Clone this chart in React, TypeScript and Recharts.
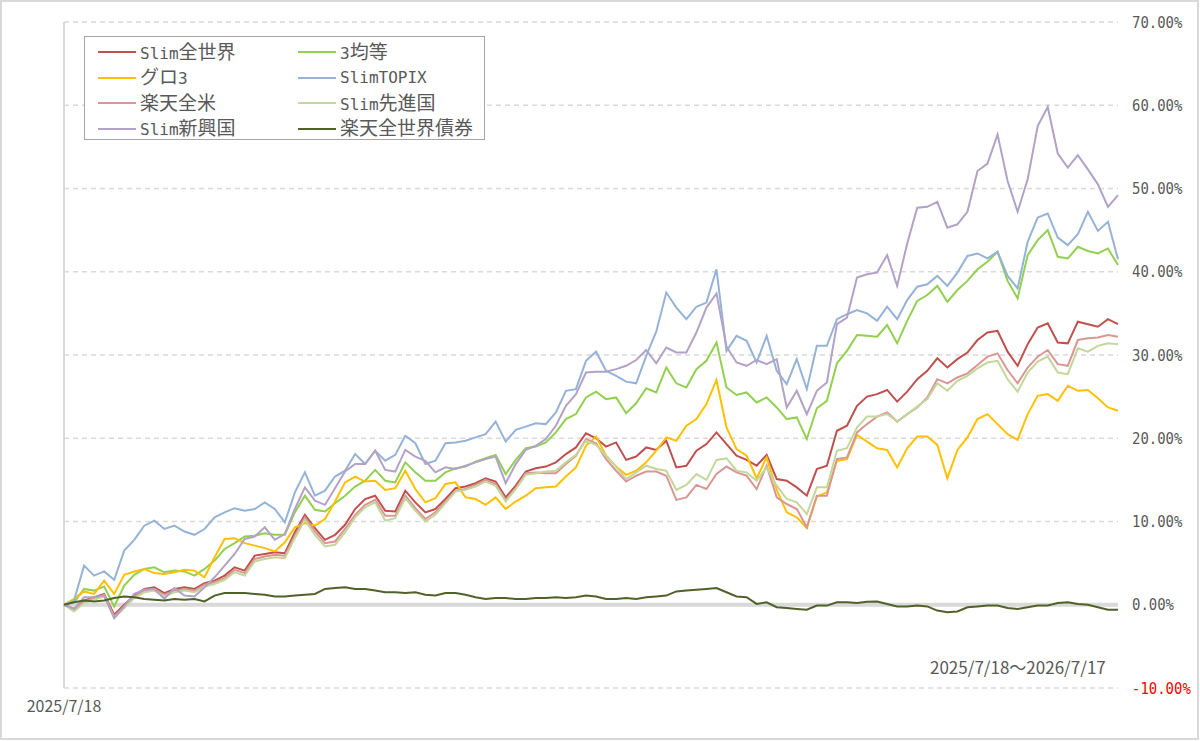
import React from 'react';
import { LineChart, Line, XAxis, YAxis, CartesianGrid, ReferenceLine, Legend } from 'recharts';

// 2025/7/18 〜 2026/7/17, cumulative return (%), sampled across the period
const slimZensekai = [
  0, -0.5, 0.5, 0.9, 1.3, -1.2, 0, 1.1, 1.9, 2.1,
  1.4, 1.9, 2.1, 1.9, 2.6, 2.9, 3.5, 4.5, 4.1, 5.9,
  6.1, 6.3, 6.2, 8.7, 10.8, 9.2, 7.8, 8.4, 9.6, 11.5,
  12.7, 13.1, 11.3, 11.2, 13.7, 12.3, 11.1, 11.5, 12.7, 14.0,
  14.2, 14.6, 15.2, 14.8, 12.9, 14.3, 16.0, 16.4, 16.6, 17.1,
  18.1, 18.9, 20.6, 20.0, 19.0, 19.5, 17.4, 17.8, 18.9, 18.6,
  19.7, 16.5, 16.7, 18.5, 19.3, 20.7, 19.3, 17.9, 17.4, 16.7,
  18.0, 15.1, 14.9, 14.1, 13.1, 16.3, 16.7, 20.9, 21.5, 23.9,
  25.0, 25.3, 25.8, 24.4, 25.6, 27.1, 28.1, 29.6, 28.5, 29.5,
  30.3, 31.8, 32.7, 32.9, 30.4, 28.7, 31.3, 33.3, 33.8, 31.5,
  31.4, 34.0, 33.7, 33.4, 34.3, 33.7,
];
const sanKinto = [
  0, 0.3, 1.9, 1.7, 2.2, -0.2, 2.3, 3.6, 4.3, 4.5,
  3.9, 4.1, 4.0, 3.5, 4.3, 5.3, 6.7, 7.4, 8.2, 8.3,
  8.6, 8.4, 8.4, 11.1, 13.1, 11.4, 11.2, 12.2, 13.1, 14.2,
  14.9, 16.2, 14.9, 14.7, 17.1, 15.9, 14.9, 14.9, 15.9, 16.4,
  16.6, 17.2, 17.6, 18.0, 15.7, 17.4, 18.8, 19.0, 19.5, 20.7,
  22.3, 22.9, 24.9, 25.6, 24.7, 24.9, 23.0, 24.2, 26.0, 25.5,
  28.5, 26.6, 26.1, 28.3, 29.3, 31.5, 26.1, 25.2, 25.5, 24.3,
  24.9, 23.7, 22.3, 22.5, 19.9, 23.6, 24.5, 29.0, 30.5, 32.4,
  32.3, 32.2, 33.6, 31.4, 34.1, 36.5, 37.2, 38.3, 36.4, 37.8,
  38.9, 40.3, 41.2, 42.4, 38.9, 36.8, 42.0, 43.8, 45.0, 41.8,
  41.6, 43.0, 42.5, 42.2, 42.8, 40.8,
];
const guro3 = [
  0, 0.7, 1.6, 1.3, 2.9, 1.3, 3.6, 4.0, 4.3, 3.8,
  3.7, 3.9, 4.2, 4.1, 3.3, 5.7, 7.9, 8.0, 7.4, 7.1,
  6.8, 6.4, 7.5, 9.3, 9.8, 9.5, 10.3, 12.4, 14.7, 15.4,
  14.8, 14.9, 13.8, 14.0, 16.1, 13.9, 12.3, 12.8, 14.5, 14.7,
  12.9, 12.7, 12.0, 12.9, 11.5, 12.4, 13.1, 14.0, 14.1, 14.2,
  15.4, 16.5, 19.1, 20.2, 17.9, 16.6, 15.6, 16.1, 17.1, 18.5,
  20.1, 19.7, 21.5, 22.3, 24.1, 27.0, 21.3, 18.7, 17.9, 15.2,
  17.7, 13.8, 11.1, 10.5, 9.2, 13.0, 13.5, 17.3, 17.5, 20.4,
  19.6, 18.8, 18.6, 16.5, 18.8, 20.2, 20.2, 19.2, 15.2, 18.6,
  20.1, 22.3, 22.9, 21.7, 20.5, 19.8, 22.9, 25.1, 25.3, 24.5,
  26.3, 25.7, 25.8, 24.8, 23.7, 23.3,
];
const slimTopix = [
  0, 0.5, 4.7, 3.5, 4.0, 3.0, 6.5, 7.8, 9.5, 10.1,
  9.1, 9.5, 8.8, 8.4, 9.1, 10.5, 11.1, 11.6, 11.3, 11.5,
  12.3, 11.5, 9.9, 13.5, 15.9, 13.1, 13.7, 15.4, 16.1, 18.1,
  16.9, 18.5, 17.3, 18.0, 20.3, 19.4, 16.9, 17.3, 19.4, 19.5,
  19.7, 20.1, 20.5, 22.0, 19.6, 21.0, 21.4, 21.8, 21.7, 23.1,
  25.7, 25.9, 29.3, 30.4, 28.1, 27.5, 26.8, 26.6, 29.9, 32.8,
  37.5, 35.7, 34.3, 35.8, 36.3, 40.3, 30.5, 32.3, 31.7, 29.1,
  32.3, 28.1, 26.5, 29.5, 25.9, 31.1, 31.1, 34.3, 34.9, 35.4,
  35.0, 34.1, 35.8, 34.3, 36.6, 38.2, 38.5, 39.5, 38.3, 39.9,
  41.9, 42.2, 41.6, 42.4, 39.5, 38.0, 43.6, 46.5, 47.0, 44.1,
  43.2, 44.5, 47.2, 44.9, 46.0, 41.5,
];
const rakutenZenbei = [
  0, -0.6, 0.4, 0.8, 1.2, -1.4, -0.2, 1.0, 1.7, 1.9,
  1.2, 1.7, 1.9, 1.7, 2.4, 2.7, 3.2, 4.2, 3.8, 5.5,
  5.8, 6.0, 5.9, 8.3, 10.5, 8.8, 7.4, 7.6, 9.1, 10.8,
  12.0, 12.6, 10.7, 10.7, 13.1, 11.6, 10.3, 11.1, 12.4, 13.7,
  13.9, 14.4, 15.0, 14.5, 12.6, 14.0, 15.8, 15.9, 15.8, 15.8,
  16.9, 17.9, 19.9, 19.4, 17.5, 16.1, 14.8, 15.5, 16.0, 16.0,
  15.5, 12.6, 12.9, 14.4, 13.9, 15.7, 16.6, 15.9, 15.5, 13.9,
  16.7, 12.9, 12.1, 11.5, 9.3, 13.1, 13.1, 17.5, 17.7, 20.7,
  21.7, 22.6, 23.1, 22.0, 22.9, 23.7, 24.9, 27.1, 26.6, 27.3,
  27.8, 28.8, 29.8, 30.2, 28.2, 26.6, 28.5, 29.8, 30.6, 28.9,
  28.7, 31.8, 32.0, 32.1, 32.4, 32.2,
];
const slimSenshinkoku = [
  0, -0.8, 0.2, 0.6, 1.0, -1.6, -0.4, 0.8, 1.5, 1.7,
  1.0, 1.5, 1.7, 1.5, 2.2, 2.5, 3.0, 3.9, 3.5, 5.2,
  5.5, 5.7, 5.6, 8.0, 10.2, 8.4, 7.0, 7.2, 8.7, 10.5,
  11.7, 12.3, 10.1, 10.4, 12.8, 11.3, 10.0, 10.8, 12.2, 13.6,
  13.8, 14.2, 14.8, 14.3, 12.4, 13.9, 15.6, 15.8, 16.0, 16.1,
  17.1, 18.0, 19.7, 19.2, 17.9, 16.6, 15.1, 15.9, 16.7, 16.3,
  16.1, 13.8, 14.4, 15.7, 15.0, 17.4, 17.6, 16.1, 15.9, 14.9,
  16.5, 14.3, 12.7, 12.3, 10.9, 14.1, 14.1, 18.5, 18.8, 21.3,
  22.6, 22.6, 22.9, 22.0, 22.9, 23.8, 24.7, 26.6, 25.7, 26.9,
  27.5, 28.4, 29.1, 29.3, 27.1, 25.6, 27.9, 29.2, 29.8, 27.9,
  27.7, 30.8, 30.4, 31.1, 31.4, 31.3,
];
const slimShinkokoku = [
  0, -0.5, 0.9, 0.9, 1.1, -1.6, -0.2, 1.3, 1.8, 1.9,
  0.7, 2.0, 1.1, 1.0, 2.1, 3.3, 4.7, 6.1, 7.9, 8.2,
  9.3, 7.8, 8.5, 11.5, 14.1, 12.5, 12.0, 14.0, 16.0, 16.9,
  16.9, 18.5, 16.2, 16.0, 18.6, 17.8, 17.3, 15.9, 16.5, 16.3,
  16.7, 17.1, 17.5, 17.8, 14.6, 16.9, 18.6, 19.1, 19.9, 21.5,
  23.9, 25.3, 27.9, 28.0, 28.0, 28.3, 28.7, 29.4, 30.6, 29.0,
  30.9, 30.3, 30.3, 32.7, 35.7, 37.4, 31.0, 29.1, 28.7, 29.4,
  28.9, 29.5, 23.7, 25.7, 22.9, 25.7, 26.7, 33.7, 34.5, 39.3,
  39.7, 39.9, 42.0, 38.3, 43.4, 47.7, 47.8, 48.4, 45.3, 45.7,
  47.2, 52.1, 53.0, 56.5, 50.9, 47.2, 51.1, 57.5, 59.8, 54.2,
  52.5, 54.0, 52.3, 50.5, 47.8, 49.2,
];
const rakutenSaiken = [
  0, 0.3, 0.5, 0.4, 0.5, 0.8, 1.0, 0.9, 0.7, 0.6,
  0.5, 0.7, 0.6, 0.7, 0.4, 1.1, 1.4, 1.4, 1.4, 1.3,
  1.2, 1.0, 1.0, 1.1, 1.2, 1.3, 1.9, 2.0, 2.1, 1.9,
  1.9, 1.7, 1.5, 1.5, 1.4, 1.5, 1.2, 1.1, 1.4, 1.4,
  1.2, 0.9, 0.7, 0.8, 0.8, 0.7, 0.7, 0.8, 0.8, 0.9,
  0.8, 0.9, 1.1, 1.0, 0.7, 0.7, 0.8, 0.7, 0.9, 1.0,
  1.1, 1.6, 1.7, 1.8, 1.9, 2.0, 1.5, 1.0, 0.9, 0.1,
  0.3, -0.3, -0.4, -0.5, -0.6, -0.1, -0.1, 0.3, 0.3, 0.2,
  0.35, 0.4, 0.1, -0.2, -0.2, -0.1, -0.2, -0.7, -0.9, -0.8,
  -0.3, -0.2, -0.1, -0.1, -0.4, -0.5, -0.3, -0.1, -0.1, 0.2,
  0.3, 0.1, 0.0, -0.3, -0.6, -0.6,
];

const seriesNames = ['Slim全世界', '3均等', 'グロ3', 'SlimTOPIX', '楽天全米', 'Slim先進国', 'Slim新興国', '楽天全世界債券'];
const seriesColors = ['#c0504d', '#92d050', '#ffc000', '#95b3d7', '#da9694', '#c4d79b', '#b3a2c7', '#4f6228'];
const seriesValues = [slimZensekai, sanKinto, guro3, slimTopix, rakutenZenbei, slimSenshinkoku, slimShinkokoku, rakutenSaiken];
const seriesKeys = ['s0', 's1', 's2', 's3', 's4', 's5', 's6', 's7'];

const yTicks = [-10, 0, 10, 20, 30, 40, 50, 60, 70];
const xTickLabels = ['2025/7/18'];
const periodLabel = '2025/7/18〜2026/7/17';

const days = slimZensekai.map((_, i) => i);
const rows = days.map((d) => {
  const r: Record<string, number> = { day: d };
  seriesKeys.forEach((k, j) => { r[k] = seriesValues[j][d]; });
  return r;
});

const MONO = '"DejaVu Sans Mono", monospace';
const CJK = '"Noto Sans CJK JP", sans-serif';

const YTick = (props: any) => {
  const { x, y, payload } = props;
  const v = payload.value as number;
  const label = `${v.toFixed(2)}%`;
  return (
    <text x={x + 6} y={y} dy={5.5} textAnchor="start" fontFamily={MONO} fontSize={16}
      textLength={label.length * 8.4} lengthAdjust="spacingAndGlyphs"
      fill={v < 0 ? '#ff0000' : '#595959'}>{label}</text>
  );
};

const XTick = (props: any) => {
  const { x, y } = props;
  return (
    <text x={x} y={y} dy={16} textAnchor="middle" fontFamily={CJK} fontSize={16} fill="#595959">
      {xTickLabels[0]}
    </text>
  );
};

const runs = (s: string) => s.match(/[\x00-\x7F]+|[^\x00-\x7F]+/g) || [];

const LegendBox = (props: any) => {
  const payload = [...(props.payload || [])].sort(
    (a: any, b: any) => seriesNames.indexOf(String(a.value)) - seriesNames.indexOf(String(b.value))
  );
  return (
    <div style={{ width: 401, height: 104, border: '1px solid #a6a6a6', background: '#fff', position: 'relative', boxSizing: 'border-box' }}>
      {payload.map((item: any, k: number) => {
        const col = k % 2;
        const row = Math.floor(k / 2);
        const cy = 15 + row * 25.5;
        return (
          <div key={k} style={{ position: 'absolute', left: col === 0 ? 13 : 213, top: cy - 12, height: 24, display: 'flex', alignItems: 'center', whiteSpace: 'nowrap' }}>
            <div style={{ width: 38, height: 2, background: item.color, marginRight: 4 }} />
            <span style={{ color: '#595959', lineHeight: '24px' }}>
              {runs(String(item.value)).map((r, j) => (
                /^[\x00-\x7F]+$/.test(r)
                  ? <span key={j} style={{ fontFamily: MONO, fontSize: 16 }}>{r}</span>
                  : <span key={j} style={{ fontFamily: CJK, fontSize: 19 }}>{r}</span>
              ))}
            </span>
          </div>
        );
      })}
    </div>
  );
};

export default function App() {
  return (
    <div style={{ position: 'absolute', left: 0, top: 0, width: 1200, height: 741, background: '#fff', overflow: 'hidden' }}>
      <LineChart width={1200} height={741} data={rows} margin={{ top: 22, right: 2, bottom: 23, left: 64 }}>
        <CartesianGrid vertical={false} stroke="#d9d9d9" strokeDasharray="5 4" strokeWidth={1.3} />
        <XAxis dataKey="day" type="category" axisLine={false} tickLine={false} ticks={[0]} interval={0} height={30} tick={<XTick />} />
        <YAxis orientation="right" domain={[-10, 70]} ticks={yTicks} interval={0} axisLine={false} tickLine={false} width={80} tick={<YTick />} />
        <ReferenceLine y={0} stroke="#d9d9d9" strokeWidth={4} />
        <ReferenceLine x={0} stroke="#d9d9d9" strokeWidth={2} />
        <Legend content={<LegendBox />} layout="horizontal" verticalAlign="middle" align="center"
          wrapperStyle={{ left: 84, top: 36, width: 401, height: 104 }} />
        {seriesKeys.map((k, j) => (
          <Line key={k} dataKey={k} name={seriesNames[j]} stroke={seriesColors[j]} strokeWidth={2}
            dot={false} activeDot={false} type="linear" isAnimationActive={false} />
        ))}
      </LineChart>
      <div style={{ position: 'absolute', left: 930, top: 656, fontFamily: CJK, fontSize: 17, lineHeight: '22px', color: '#595959', whiteSpace: 'nowrap' }}>
        {periodLabel}
      </div>
      <div style={{ position: 'absolute', left: 0, top: 0, width: 1199, height: 740, border: '2px solid #d9d9d9', boxSizing: 'border-box', pointerEvents: 'none' }} />
    </div>
  );
}
